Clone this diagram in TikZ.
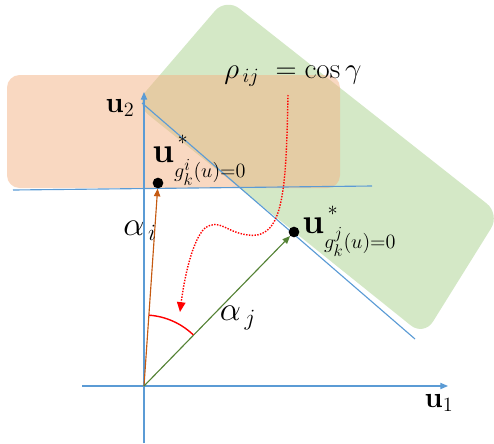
\documentclass[tikz,border=0pt]{standalone}
\usepackage{amsmath,amssymb}
\usepackage{xcolor}
\usepackage{tikz}
\usetikzlibrary{positioning,arrows.meta,calc}
\definecolor{axisblue}{HTML}{5B9BD5}
\definecolor{boxgreen}{HTML}{A9D18E}
\definecolor{boxorange}{HTML}{F4B183}
\definecolor{vecorange}{HTML}{C55A11}
\definecolor{vecgreen}{HTML}{548235}
\newcommand{\ustar}[1]{\mbox{\fontsize{24.88}{28}\selectfont$\mathbf{u}$}^{\raisebox{5pt}{$\scriptstyle\,*$}}_{\rule{0pt}{15pt}#1}}
\tikzset{
  axis/.style={draw=axisblue,line width=0.8pt},
  tip/.style={-{Triangle[length=5.5pt,width=4.5pt]}},
  dot/.style={circle,fill=black,inner sep=0pt,minimum size=7.6pt},
  lbl/.style={inner sep=0pt},
}
\begin{document}
\begin{tikzpicture}[x=0.025cm,y=-0.025cm,font=\fontsize{20.74}{25}\selectfont]
\useasboundingbox (0,0) rectangle (494,443);
\fill[boxgreen,fill opacity=0.5,rounded corners=12pt] (226,-2) -- (500,214) -- (424,336) -- (135,104) -- cycle;
\fill[boxorange,fill opacity=0.5,rounded corners=9pt] (7,75) rectangle (340,188);
\coordinate (O) at (144,386);
\coordinate (xl) at (82,386); \coordinate (xr) at (448,386);
\coordinate (yb) at (144,443); \coordinate (yt) at (144,92);
\draw[axis,tip] (xl) -- (xr);
\draw[axis,tip] (yb) -- (yt);
\coordinate (hl) at (13,190); \coordinate (hr) at (372,186);
\draw[axis] (hl) -- (hr);
\coordinate (dl) at (142,103); \coordinate (dr) at (415,339);
\draw[axis] (dl) -- (dr);
\node[dot] (ui) at (158,183) {};
\node[dot] (uj) at (294,232) {};
\draw[vecorange,line width=0.8pt,tip] (O) -- (ui);
\draw[vecgreen,line width=0.8pt,tip] (O) -- (uj);
\draw[red,line width=1pt] (O) ++(-86:71) arc[start angle=-86,end angle=-46,radius=71];
\coordinate (rs) at (288,95); \coordinate (re) at (180,312);
\draw[red,densely dotted,line width=1pt,-{Triangle[length=7pt,width=6pt]}] (rs)
  .. controls (286,190) and (284,240) .. (248,235)
  .. controls (225,232) and (220,218) .. (205,228)
  .. controls (192,240) and (184,280) .. (re);
\node[lbl,anchor=base] (rho) at (293,78) {$\rho_{\,ij} \;= \cos\gamma$};
\node[lbl,anchor=base] (u2) at (120,112) {$\mathbf{u}_2$};
\node[lbl,anchor=base] (u1) at (439,407) {$\mathbf{u}_1$};
\node[lbl,anchor=base,scale=1.15] (ai) at (140,235) {$\alpha_{\,i}$};
\node[lbl,anchor=base,scale=1.15] (aj) at (238,320) {$\alpha_{\,j}$};
\node[lbl,anchor=base west] (uil) at (152,162) {$\ustar{g_k^i(u)=0}$};
\node[lbl,anchor=base west] (ujl) at (302,233) {$\ustar{g_k^j(u)=0}$};
\end{tikzpicture}
\end{document}
